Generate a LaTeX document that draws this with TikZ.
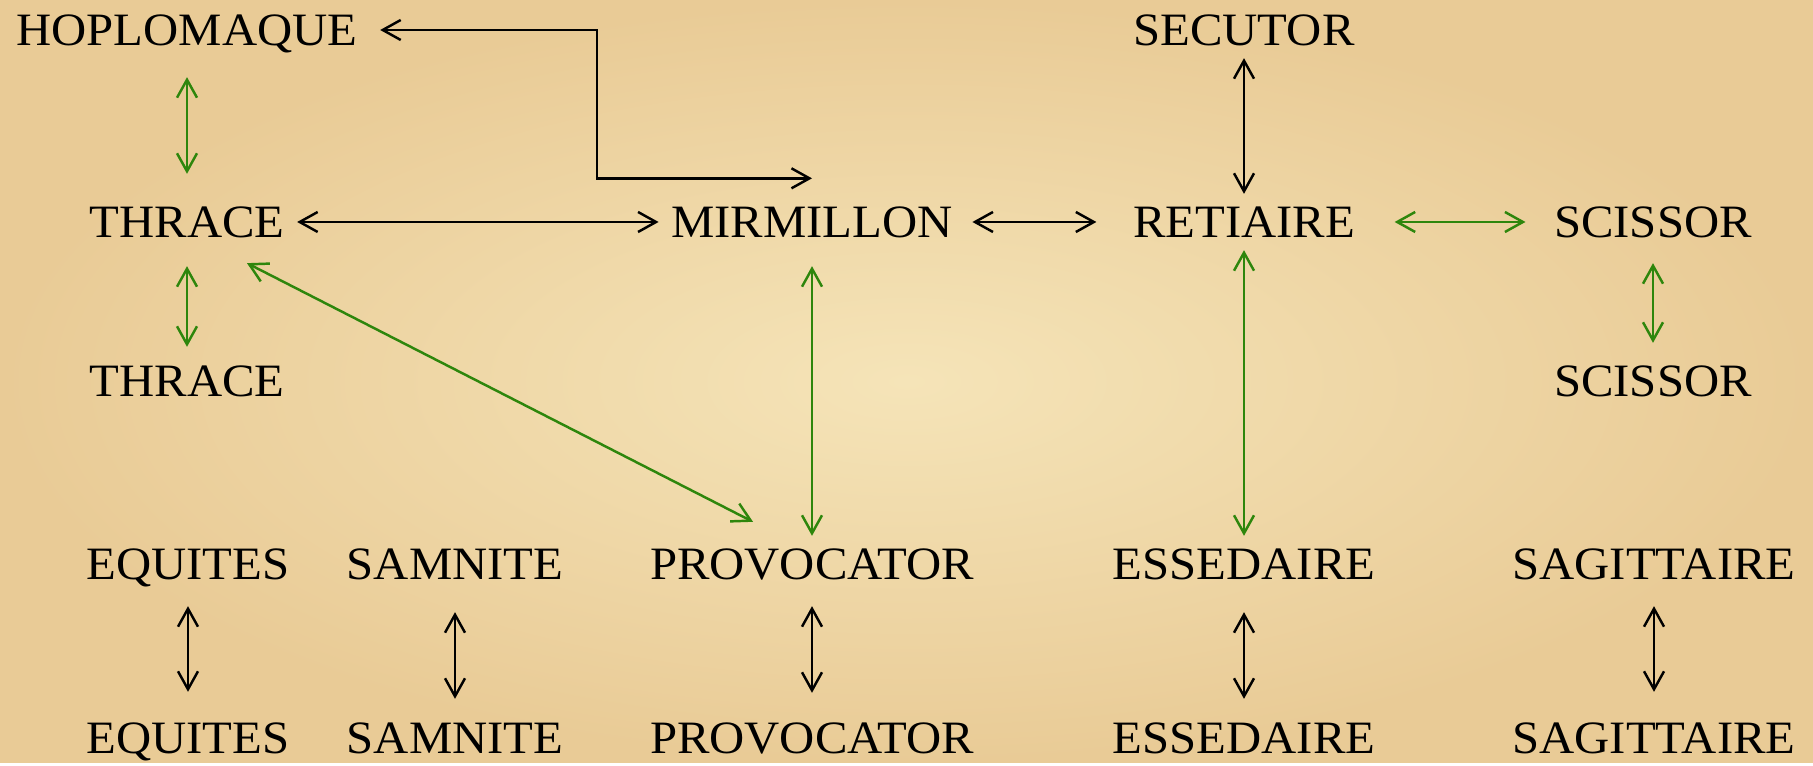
\documentclass[tikz,border=0pt]{standalone}
\usepackage{fontspec}
\setmainfont{Liberation Serif}[FakeStretch=1.05]
\usetikzlibrary{arrows.meta}
\definecolor{parchlight}{RGB}{245,228,184}
\definecolor{parchdark}{RGB}{233,203,150}
\definecolor{duelgreen}{RGB}{46,134,12}

\begin{document}
\begin{tikzpicture}[
          gladiator/.style={inner sep=1.2mm, text height=8.8pt, text depth=0pt,
            font=\fontsize{13.2}{15}\selectfont},
          duel/.style={<->, line width=0.7pt, >={Straight Barb[length=1.8mm,width=2mm]}},
          greenduel/.style={duel, draw=duelgreen}]

        \shade[inner color=parchlight, outer color=parchdark] (0,0) rectangle (18.13,7.63);

        \node[gladiator] (hop)  at (1.87,7.33)  {HOPLOMAQUE};
        \node[gladiator] (sec)  at (12.44,7.33) {SECUTOR};

        \node[gladiator] (thr1) at (1.87,5.41)  {THRACE};
        \node[gladiator] (mir)  at (8.12,5.41)  {MIRMILLON};
        \node[gladiator] (ret)  at (12.44,5.41) {RETIAIRE};
        \node[gladiator] (sci1) at (16.53,5.41) {SCISSOR};

        \node[gladiator] (thr2) at (1.87,3.82)  {THRACE};
        \node[gladiator] (sci2) at (16.53,3.82) {SCISSOR};

        \node[gladiator] (equ1) at (1.88,1.99)  {EQUITES};
        \node[gladiator] (sam1) at (4.55,1.99)  {SAMNITE};
        \node[gladiator] (pro1) at (8.12,1.99)  {PROVOCATOR};
        \node[gladiator] (ess1) at (12.44,1.99) {ESSEDAIRE};
        \node[gladiator] (sag1) at (16.54,1.99) {SAGITTAIRE};

        \node[gladiator] (equ2) at (1.88,0.25)  {EQUITES};
        \node[gladiator] (sam2) at (4.55,0.25)  {SAMNITE};
        \node[gladiator] (pro2) at (8.12,0.25)  {PROVOCATOR};
        \node[gladiator] (ess2) at (12.44,0.25) {ESSEDAIRE};
        \node[gladiator] (sag2) at (16.54,0.25) {SAGITTAIRE};

        \coordinate (mirtop) at ([yshift=1.55mm]mir.north);
        \coordinate (bend)   at (5.97,6.6);

        \draw[duel, shorten <=1mm] (hop.east) -| (bend) |- (mirtop);
        \draw[greenduel, shorten <=1.9mm, shorten >=2mm] (hop) -- (thr1);

        \draw[duel] (thr1) -- (mir);
        \draw[duel, shorten <=0.7mm, shorten >=2.4mm] (mir) -- (ret);
        \draw[greenduel, shorten <=2.7mm, shorten >=1.6mm] (ret) -- (sci1);
        \draw[duel] (sec) -- (ret);

        \draw[greenduel, shorten <=1.6mm, shorten >=0.6mm] (thr1) -- (thr2);
        \draw[greenduel, shorten <=1.3mm, shorten >=1mm] (sci1) -- (sci2);
        \draw[greenduel, shorten <=1.6mm] (mir) -- (pro1);
        \draw[greenduel] (ret) -- (ess1);
        \draw[greenduel] ([xshift=6mm,yshift=-1.3mm]thr1.south) -- ([xshift=-5.9mm,yshift=1.4mm]pro1.north);

        \draw[duel, shorten <=1.4mm, shorten >=1.8mm] (equ1) -- (equ2);
        \draw[duel, shorten <=2mm, shorten >=1.1mm] (sam1) -- (sam2);
        \draw[duel, shorten <=1.4mm, shorten >=1.7mm] (pro1) -- (pro2);
        \draw[duel, shorten <=2mm, shorten >=1.1mm] (ess1) -- (ess2);
        \draw[duel, shorten <=1.4mm, shorten >=1.8mm] (sag1) -- (sag2);

      \end{tikzpicture}
\end{document}
